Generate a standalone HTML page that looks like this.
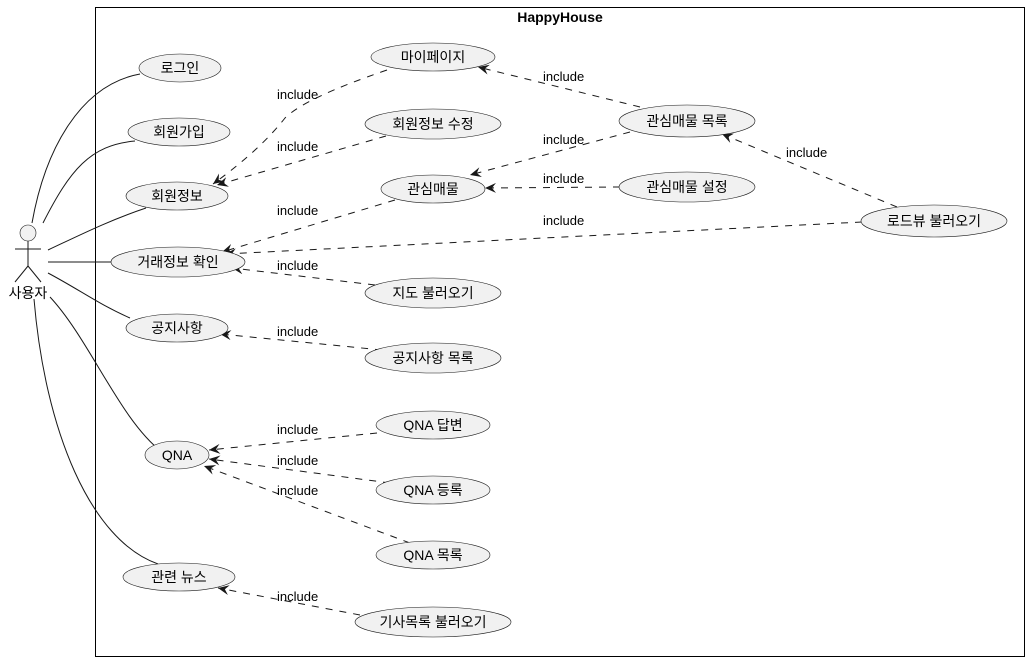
<!DOCTYPE html>
<html><head><meta charset="utf-8"><style>
html,body{margin:0;padding:0;background:#fff;}
svg{display:block;}
text{font-family:"Liberation Sans","Noto Sans CJK KR",sans-serif;font-size:13px;fill:#000;}
.n text{font-size:14px;}
.e{fill:#f1f1f1;stroke:#181818;stroke-width:0.6;}
.d{fill:none;stroke:#181818;stroke-width:1;stroke-dasharray:7,7;}
.s{fill:none;stroke:#181818;stroke-width:1;}
</style></head><body>
<svg width="1030" height="662" viewBox="0 0 1030 662" xmlns="http://www.w3.org/2000/svg">
<defs>
<marker id="a" viewBox="0 0 12 10" refX="11" refY="5" markerWidth="12" markerHeight="10" markerUnits="userSpaceOnUse" orient="auto">
<path d="M0,0 L11,5 L0,10 L4,5 Z" fill="#181818"/>
</marker>
</defs>
<rect x="95.5" y="7.5" width="929" height="649" fill="none" stroke="#000" stroke-width="1"/>
<text x="560" y="22" text-anchor="middle" style="font-weight:bold;font-size:14px">HappyHouse</text>

<circle cx="28" cy="233" r="8" class="e"/>
<line x1="28" y1="241" x2="28" y2="266" class="s"/>
<line x1="15" y1="249" x2="41" y2="249" class="s"/>
<line x1="28" y1="266" x2="15" y2="282" class="s"/>
<line x1="28" y1="266" x2="41" y2="282" class="s"/>
<text x="28" y="298" text-anchor="middle" style="font-size:14px">사용자</text>

<path class="s" d="M32,223 C45,150 80,85 140,74"/>
<path class="s" d="M43,223 C70,170 90,145 135,141"/>
<path class="s" d="M48,250 C80,235 110,220 146,208"/>
<path class="s" d="M48,262 L111,262"/>
<path class="s" d="M48,273 C80,290 100,305 130,318"/>
<path class="s" d="M50,297 C90,340 120,420 162,452"/>
<path class="s" d="M34,299 C45,430 90,540 158,564"/>

<path class="d" marker-end="url(#a)" d="M387,70 Q305,98 285,118 Q260,150 213,184"/>
<path class="d" marker-end="url(#a)" d="M386,136 L217,185"/>
<path class="d" marker-end="url(#a)" d="M395,200 L222,252"/>
<path class="d" marker-end="url(#a)" d="M862,222 L225,254"/>
<path class="d" marker-end="url(#a)" d="M375,285 L232,268"/>
<path class="d" marker-end="url(#a)" d="M382,350 L220,334"/>
<path class="d" marker-end="url(#a)" d="M620,187 L485,188"/>
<path class="d" marker-end="url(#a)" d="M630,132 L470,175"/>
<path class="d" marker-end="url(#a)" d="M640,107 L478,67"/>
<path class="d" marker-end="url(#a)" d="M897,207 L722,134"/>
<path class="d" marker-end="url(#a)" d="M377,433 L209,450"/>
<path class="d" marker-end="url(#a)" d="M390,483 L209,459"/>
<path class="d" marker-end="url(#a)" d="M410,543 L204,466"/>
<path class="d" marker-end="url(#a)" d="M360,615 L218,588"/>

<g>
<text x="277" y="99">include</text>
<text x="277" y="151">include</text>
<text x="277" y="215">include</text>
<text x="543" y="225">include</text>
<text x="277" y="270">include</text>
<text x="277" y="336">include</text>
<text x="543" y="183">include</text>
<text x="543" y="144">include</text>
<text x="543" y="81">include</text>
<text x="786" y="157">include</text>
<text x="277" y="434">include</text>
<text x="277" y="465">include</text>
<text x="277" y="495">include</text>
<text x="277" y="601">include</text>
</g>

<g text-anchor="middle" class="n">
<ellipse class="e" cx="180" cy="68" rx="41" ry="14"/><text x="180" y="73">로그인</text>
<ellipse class="e" cx="179" cy="132" rx="51" ry="14"/><text x="179" y="137">회원가입</text>
<ellipse class="e" cx="177" cy="196" rx="51" ry="14"/><text x="177" y="201">회원정보</text>
<ellipse class="e" cx="178" cy="262" rx="67" ry="15"/><text x="178" y="267">거래정보 확인</text>
<ellipse class="e" cx="177" cy="328" rx="51" ry="14"/><text x="177" y="333">공지사항</text>
<ellipse class="e" cx="177" cy="455" rx="32" ry="14"/><text x="177" y="460">QNA</text>
<ellipse class="e" cx="179" cy="577" rx="56" ry="14"/><text x="179" y="582">관련 뉴스</text>
<ellipse class="e" cx="433" cy="57" rx="62" ry="14"/><text x="433" y="62">마이페이지</text>
<ellipse class="e" cx="433" cy="124" rx="68" ry="15"/><text x="433" y="129">회원정보 수정</text>
<ellipse class="e" cx="433" cy="189" rx="52" ry="14"/><text x="433" y="194">관심매물</text>
<ellipse class="e" cx="433" cy="293" rx="68" ry="15"/><text x="433" y="298">지도 불러오기</text>
<ellipse class="e" cx="433" cy="358" rx="68" ry="15"/><text x="433" y="363">공지사항 목록</text>
<ellipse class="e" cx="433" cy="425" rx="57" ry="14"/><text x="433" y="430">QNA 답변</text>
<ellipse class="e" cx="433" cy="490" rx="57" ry="14"/><text x="433" y="495">QNA 등록</text>
<ellipse class="e" cx="433" cy="555" rx="57" ry="14"/><text x="433" y="560">QNA 목록</text>
<ellipse class="e" cx="433" cy="622" rx="78" ry="15"/><text x="433" y="627">기사목록 불러오기</text>
<ellipse class="e" cx="687" cy="121" rx="68" ry="16"/><text x="687" y="126">관심매물 목록</text>
<ellipse class="e" cx="687" cy="187" rx="68" ry="15"/><text x="687" y="192">관심매물 설정</text>
<ellipse class="e" cx="934" cy="221" rx="73" ry="16"/><text x="934" y="226">로드뷰 불러오기</text>
</g>
</svg>
</body></html>
